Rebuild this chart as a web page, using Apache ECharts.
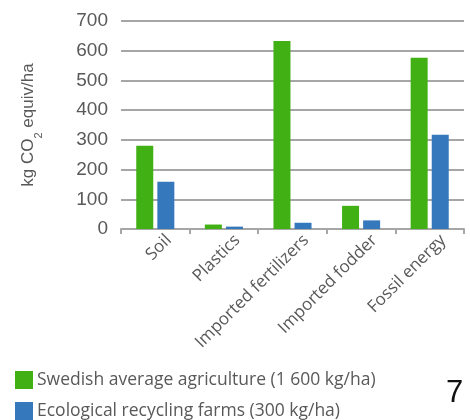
<!DOCTYPE html>
<html><head><meta charset="utf-8">
<script src="https://cdn.jsdelivr.net/npm/echarts@6/dist/echarts.min.js"></script>
<style>html,body{margin:0;padding:0;background:#fff}#c{width:470px;height:420px}</style>
</head><body><div id="c"></div>
<script>
const categories = ['Soil', 'Plastics', 'Imported fertilizers', 'Imported fodder', 'Fossil energy'];
const swedishAvg = [280, 15, 633, 78, 576];
const ecoRecycling = [159, 8, 21, 29, 317];
const seriesNames = ['Swedish average agriculture (1 600 kg/ha)', 'Ecological recycling farms (300 kg/ha)'];
const yTicks = [0, 100, 200, 300, 400, 500, 600, 700];

const legendText = { fontFamily: 'Open Sans', fontSize: 17.5, color: '#595959', padding: [0, 0, 0, -1] };
const chart = echarts.init(document.getElementById('c'));
chart.setOption({
  animation: false,
  grid: { left: 121, right: 6, top: 21, bottom: 191 },
  legend: [
    { orient: 'vertical', left: 10, top: 366, itemWidth: 18, itemHeight: 18, icon: 'rect',
      textStyle: legendText, data: [seriesNames[0]] },
    { orient: 'vertical', left: 10, top: 397, itemWidth: 18, itemHeight: 18, icon: 'rect',
      textStyle: legendText, data: [seriesNames[1]] }
  ],
  xAxis: {
    type: 'category', data: categories,
    axisLine: { lineStyle: { color: '#a6a6a6', width: 2 } },
    axisTick: { show: true, length: 5, lineStyle: { color: '#a6a6a6', width: 2 } },
    axisLabel: { rotate: 45, interval: 0, fontFamily: 'Open Sans', fontSize: 17, color: '#595959',
      margin: 22, padding: [0, -19, 0, 0] }
  },
  yAxis: {
    type: 'value', min: 0, max: 700, interval: 100,
    axisLabel: { fontFamily: 'Liberation Sans', fontSize: 19, color: '#595959', margin: 13 },
    splitLine: { lineStyle: { color: '#a6a6a6', width: 2 } },
    axisLine: { show: false }, axisTick: { show: false },
    name: '{a|kg CO}{s|2}{a| equiv/ha}', nameLocation: 'middle', nameGap: 84, nameRotate: 90,
    nameTextStyle: { rich: {
      a: { fontFamily: 'Liberation Sans', fontSize: 17, color: '#595959' },
      s: { fontFamily: 'Liberation Sans', fontSize: 11, color: '#595959', verticalAlign: 'bottom', padding: [0, 0, -7, 0] }
    } }
  },
  series: [
    { name: seriesNames[0], type: 'bar', data: swedishAvg, barWidth: 17, barGap: '24%', itemStyle: { color: '#41b014' } },
    { name: seriesNames[1], type: 'bar', data: ecoRecycling, barWidth: 17, itemStyle: { color: '#3578bb' } }
  ],
  graphic: [
    { type: 'text', x: 446, y: 378,
      style: { text: '7', font: '31px "Liberation Sans"', fill: '#111' } }
  ]
});
</script></body></html>
